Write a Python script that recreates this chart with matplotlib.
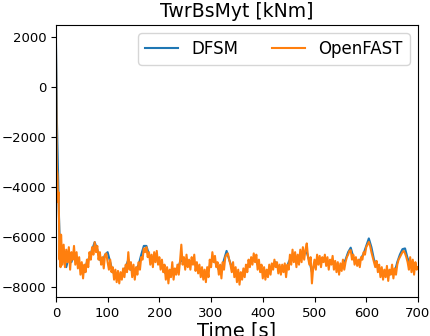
import numpy as np
import matplotlib
matplotlib.use("Agg")
import matplotlib.pyplot as plt

# ----------------------------------------------------------------------
# Donnees (kNm)
# ----------------------------------------------------------------------
t_start_of = [0, 0.5, 1, 1.5, 2, 3, 4, 5, 6, 7, 8, 9]
of_start = [2000, 500, -1500, -2800, -3300, -3500, -4600, -4200, -5300, -6900, -5900, -7200]

t_start_dfsm = [0, 1, 2, 3, 4, 5, 6, 8]
dfsm_start = [2000, 500, -1400, -2400, -3300, -4300, -5200, -6600]

# OpenFAST, t = 10 .. 700 s, pas 2.5 s
of_main = [
    -5900, -7100, -6300, -7200, -6500, -7000, -6400, -7300, -6600, -6900,
    -6350, -7100, -6600, -7250, -6800, -7500, -7000, -7650, -7100, -7400,
    -6900, -7200, -6600, -6900, -6400, -6700, -6200, -6600, -6350, -6900,
    -6600, -7100, -6800, -7250, -6700, -6650, -7000, -7300, -6900, -7400,
    -7200, -7700, -7300, -7800, -7350, -7850, -7400, -7700, -7250, -7600,
    -7100, -7400, -6600, -7300, -7000, -7600, -7100, -7700, -7200, -7500,
    -7000, -7300, -6800, -6900, -6450, -6600, -6400, -6800, -6600, -7100,
    -6700, -7200, -6600, -7000, -6550, -7100, -6800, -7300, -6900, -7400,
    -7100, -7700, -7200, -7850, -7300, -7600, -7000, -7700, -7250, -7500,
    -7100, -7500, -6950, -6300, -7100, -6800, -7300, -6700, -7200, -6900,
    -7300, -6800, -7100, -6700, -7350, -7000, -7450, -7100, -7600, -7200,
    -7700, -7300, -7800, -7200, -7600, -6900, -7200, -6600, -7000, -6750,
    -7200, -7000, -7500, -7100, -7650, -7000, -7300, -6800, -6700, -6650,
    -6900, -7100, -7400, -7000, -7600, -7200, -7800, -7300, -7900, -7400,
    -7700, -7250, -7600, -7100, -7400, -6900, -7200, -6800, -7100, -6650,
    -7000, -6700, -7300, -6900, -7400, -7100, -7650, -7200, -7700, -7300,
    -7600, -7100, -7500, -7050, -7300, -6900, -7200, -7000, -7450, -7100,
    -7500, -7100, -7400, -7050, -7600, -7100, -7300, -6700, -7100, -6500,
    -7000, -6600, -7200, -6700, -7100, -6500, -7000, -6400, -6900, -6500,
    -6250, -6800, -7100, -6800, -7850, -7200, -6900, -7300, -6700, -7100,
    -6750, -7200, -6800, -7000, -6700, -7150, -6800, -7300, -6900, -7100,
    -6750, -7300, -6950, -7400, -7000, -7500, -7050, -7350, -6900, -7300,
    -7000, -6800, -6700, -6550, -6520, -6900, -6700, -7100, -6800, -7150,
    -6900, -7200, -6800, -6900, -6600, -6700, -6400, -6300, -6190, -6350,
    -6600, -6800, -7000, -7200, -6950, -7400, -7100, -7600, -7200, -7700,
    -7300, -7600, -7150, -7750, -7300, -7500, -7100, -7650, -7250, -7500,
    -7100, -6900, -6800, -6700, -6600, -6550, -6650, -6800, -7000, -7300,
    -6800, -7400, -6900, -7500, -7000, -7300, -7200,
]

# DFSM, t = 10 .. 700 s, pas 5 s
dfsm_main = [
    -6600, -6900, -7200, -6800, -7000, -6700, -6900, -7100, -7300, -7400,
    -7000, -6800, -6500, -6200, -6500, -6900, -7000, -6700, -6600, -7000,
    -7400, -7500, -7600, -7500, -7400, -7200, -6900, -7300, -7400, -7300,
    -7100, -6700, -6350, -6350, -6700, -6900, -6800, -6800, -7000, -7100,
    -7400, -7500, -7500, -7300, -7400, -7300, -7000, -6900, -7000, -7000,
    -7000, -6900, -7100, -7200, -7400, -7500, -7500, -7300, -7000, -6800,
    -7100, -7300, -7300, -6900, -6550, -6900, -7200, -7400, -7550, -7600,
    -7500, -7400, -7200, -7000, -6900, -6850, -7100, -7250, -7400, -7450,
    -7350, -7300, -7100, -7000, -7250, -7300, -7250, -7300, -7000, -6800,
    -6800, -6950, -6800, -6700, -6650, -6600, -6950, -7400, -7100, -6900,
    -6950, -6900, -6900, -7000, -7000, -7000, -7150, -7200, -7200, -7100,
    -6900, -6600, -6420, -6800, -6950, -7000, -6850, -6650, -6350, -6050,
    -6400, -6900, -7100, -7300, -7400, -7450, -7450, -7500, -7350, -7400,
    -7000, -6700, -6480, -6450, -6850, -7050, -7150, -7200, -7250,
]

t_of = np.concatenate([t_start_of, np.arange(10, 700.1, 2.5)])
y_of = np.concatenate([of_start, of_main])
t_dfsm = np.concatenate([t_start_dfsm, np.arange(10, 700.1, 5)])
y_dfsm = np.concatenate([dfsm_start, dfsm_main])

fig = plt.figure(figsize=(4.3, 3.36), dpi=100)
ax = fig.add_axes([0.130, 0.116, 0.842, 0.810])
ax.plot(t_dfsm, y_dfsm, color="C0", lw=1.5, label="DFSM")
ax.plot(t_of, y_of, color="C1", lw=1.5, label="OpenFAST")
ax.set_xlim(0, 700)
ax.set_title("TwrBsMyt [kNm]", fontsize=13.5)
ax.set_xlabel("Time [s]", fontsize=14, labelpad=1)
ax.tick_params(labelsize=9.5)
ax.legend(loc="upper right", ncol=2, fontsize=12)
plt.savefig("out.png", dpi=100)
plt.close()
